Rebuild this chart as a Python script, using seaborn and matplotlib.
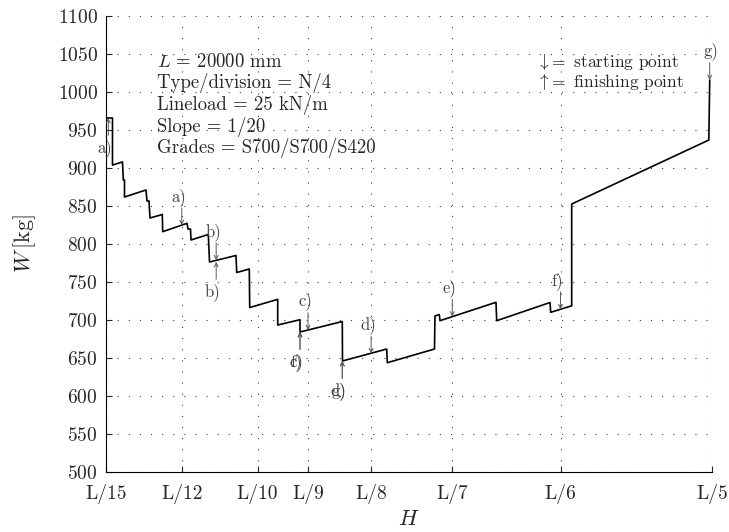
import numpy as np
import pandas as pd
import matplotlib
matplotlib.use("Agg")
import matplotlib.pyplot as plt
import seaborn as sns

# ---------------- data ----------------
L = 20000.0
tick_div = [15, 12, 10, 9, 8, 7, 6, 5]
tick_labels = ["L/15", "L/12", "L/10", "L/9", "L/8", "L/7", "L/6", "L/5"]

H_path = [1337.7, 1361.9, 1361.9, 1405.9, 1409.5, 1414.7, 1414.7, 1509.3, 1513.7, 1522.5,
          1527.0, 1581.1, 1582.8, 1689.8, 1694.2, 1705.2, 1707.4, 1783.5, 1788.8, 1905.4,
          1908.5, 1963.9, 1965.7, 2088.9, 2088.9, 2187.0, 2187.0, 2373.1, 2374.0, 2568.5,
          2571.1, 2778.8, 2781.0, 2800.0, 2803.1, 3049.5, 3052.6, 3287.1, 3290.2, 3382.6,
          3382.6, 3986.0, 3990.0]
W_path = [965.8, 965.8, 903.9, 908.0, 884.2, 884.2, 861.8, 871.1, 856.6, 856.6,
          834.2, 838.8, 816.2, 827.2, 819.7, 819.7, 805.3, 812.5, 776.3, 784.9,
          762.5, 767.1, 716.4, 727.2, 693.4, 700.4, 684.2, 698.0, 646.1, 661.8,
          643.8, 661.8, 705.3, 707.2, 699.1, 723.3, 699.1, 723.0, 710.1, 718.7,
          852.6, 936.8, 1015.8]

start_labels = ["a)", "b)", "c)", "d)", "e)", "f)", "g)"]
start_H = [L / 12, L / 11, L / 9, L / 8, L / 7, L / 6, 3990.0]
start_W = [824.8, 778.5, 686.8, 656.0, 704.4, 714.1, 1015.8]

finish_labels = ["a)", "b)", "c)", "f)", "d)", "g)"]
finish_H = [1343.5, L / 11, 2187.0, 2187.0, 2373.1, 2373.1]
finish_W = [965.8, 776.5, 684.2, 684.2, 646.1, 646.1]

info_lines = [r"$L$ = 20000 mm", "Type/division = N/4", "Lineload = 25 kN/m",
              "Slope = 1/20", "Grades = S700/S700/S420"]

# ---------------- style ----------------
sns.set_style("ticks")
plt.rcParams["font.family"] = ["serif"]
plt.rcParams["font.serif"] = ["cmr10", "DejaVu Serif"]
plt.rcParams["mathtext.fontset"] = "cm"
plt.rcParams["axes.unicode_minus"] = False
plt.rcParams["axes.formatter.use_mathtext"] = True

fig = plt.figure(figsize=(7.29, 5.32), dpi=100)
ax = fig.add_axes([106 / 729, 1 - 472 / 532, 606 / 729, 456 / 532])

df = pd.DataFrame({"H": H_path, "W": W_path})
sns.lineplot(data=df, x="H", y="W", sort=False, estimator=None, color="black",
             lw=1.2, ax=ax, zorder=3)

ax.set_xlim(L / 15, L / 5)
ax.set_ylim(500, 1100)
ax.set_xticks([L / d for d in tick_div])
ax.set_xticklabels(tick_labels)
ax.set_yticks(np.arange(500, 1101, 50))

ax.grid(True, linestyle=(0, (1, 9)), color="0.25", lw=0.8)
for s in ["top", "right"]:
    ax.spines[s].set_visible(False)
for s in ["left", "bottom"]:
    ax.spines[s].set_linewidth(0.8)
    ax.spines[s].set_color("black")
ax.tick_params(direction="in", length=4, width=0.8, labelsize=14)
ax.tick_params(axis="x", pad=9)
ax.tick_params(axis="y", pad=6)

ax.set_xlabel(r"$H$", fontsize=16)
ax.set_ylabel(r"$W\,$[kg]", fontsize=16)
ax.xaxis.set_label_coords(0.5, -0.082)
ax.yaxis.set_label_coords(-0.112, 0.5)

# info text block
ys = [0.900, 0.852, 0.805, 0.757, 0.710]
for t, y in zip(info_lines, ys):
    ax.text(0.0837, y, t, transform=ax.transAxes, fontsize=13.5, ha="left", va="center")

ax.text(0.710, 0.900, r"$\downarrow\!=$ starting point", transform=ax.transAxes,
        fontsize=12.5, ha="left", va="center")
ax.text(0.710, 0.856, r"$\uparrow\!=$ finishing point", transform=ax.transAxes,
        fontsize=12.5, ha="left", va="center")

arrow_kw = dict(arrowstyle="->", color="0.35", lw=0.7, shrinkA=0, shrinkB=0,
                mutation_scale=7)
for lab, h, w in zip(start_labels, start_H, start_W):
    ax.annotate("", xy=(h, w), xytext=(0, 12.5), textcoords="offset points",
                arrowprops=arrow_kw, zorder=4)
    dx = 1 if lab == "g)" else -2
    ax.annotate(lab, xy=(h, w), xytext=(dx, 20.5), textcoords="offset points",
                ha="center", va="center", fontsize=12, color="0.25")
for lab, h, w in zip(finish_labels, finish_H, finish_W):
    ax.annotate("", xy=(h, w), xytext=(0, -12.5), textcoords="offset points",
                arrowprops=arrow_kw, zorder=4)
    ax.annotate(lab, xy=(h, w), xytext=(-2.5, -22), textcoords="offset points",
                ha="center", va="center", fontsize=12, color="0.25")

fig.savefig("out.png", dpi=100)
